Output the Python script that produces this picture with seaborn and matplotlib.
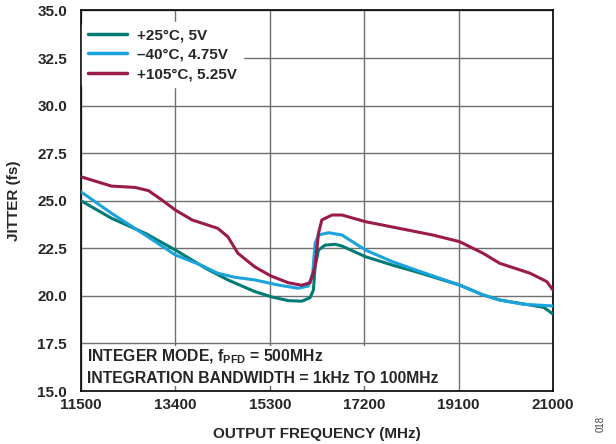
import numpy as np
import pandas as pd
import matplotlib
matplotlib.use("Agg")
import matplotlib.pyplot as plt
import seaborn as sns

# values
freq_25 = [11500, 12114, 12792, 13400, 14009, 14455, 14995, 15333, 15672, 15941,
           16110, 16178, 16211, 16280, 16414, 16617, 16753, 17225, 17767, 18239,
           19119, 19592, 19930, 20539, 20809, 21000]
jit_25 = [25.0, 24.08, 23.29, 22.41, 21.45, 20.84, 20.23, 19.95, 19.75, 19.72,
          19.9, 20.31, 21.53, 22.41, 22.67, 22.71, 22.62, 22.06, 21.62, 21.27,
          20.57, 20.05, 19.78, 19.52, 19.4, 19.05]

freq_m40 = [11500, 12114, 12792, 13400, 13913, 14252, 14589, 14995, 15469, 15874,
            16077, 16164, 16211, 16280, 16483, 16753, 17225, 17767, 18239, 19119,
            19592, 19930, 20403, 21000]
jit_m40 = [25.47, 24.34, 23.2, 22.15, 21.62, 21.19, 20.98, 20.84, 20.57, 20.4,
           20.52, 21.19, 22.76, 23.2, 23.32, 23.2, 22.41, 21.8, 21.36, 20.57,
           20.05, 19.78, 19.56, 19.47]

freq_105 = [11500, 12114, 12589, 12859, 13128, 13400, 13737, 13913, 14252, 14455,
            14658, 14995, 15319, 15672, 15941, 16110, 16211, 16280, 16347, 16550,
            16753, 17225, 17902, 18578, 19119, 19592, 19930, 20539, 20875, 21000]
jit_105 = [26.26, 25.77, 25.7, 25.53, 25.04, 24.51, 23.99, 23.84, 23.55, 23.11,
           22.24, 21.53, 21.05, 20.69, 20.56, 20.69, 21.53, 23.29, 23.99, 24.25,
           24.25, 23.9, 23.55, 23.2, 22.85, 22.24, 21.71, 21.19, 20.75, 20.31]

labels = ["+25°C, 5V", "\u201340°C, 4.75V", "+105°C, 5.25V"]
colors = ["#007b74", "#1aa3dc", "#9b1b48"]
x_ticks = [11500, 13400, 15300, 17200, 19100, 21000]
y_ticks = [15.0, 17.5, 20.0, 22.5, 25.0, 27.5, 30.0, 32.5, 35.0]

df = pd.concat([
    pd.DataFrame({"freq": freq_25, "jitter": jit_25, "cond": labels[0]}),
    pd.DataFrame({"freq": freq_m40, "jitter": jit_m40, "cond": labels[1]}),
    pd.DataFrame({"freq": freq_105, "jitter": jit_105, "cond": labels[2]}),
])

sns.set_style("white")
plt.rcParams["font.family"] = ["Liberation Sans", "DejaVu Sans"]
plt.rcParams["font.weight"] = "bold"
plt.rcParams["mathtext.fontset"] = "custom"
plt.rcParams["mathtext.rm"] = "Liberation Sans:bold"
plt.rcParams["mathtext.bf"] = "Liberation Sans:bold"

fig = plt.figure(figsize=(6.16, 4.44), dpi=100)
ax = fig.add_axes([81 / 616, 1 - 391 / 444, 472 / 616, 380.5 / 444])

sns.lineplot(data=df, x="freq", y="jitter", hue="cond", palette=dict(zip(labels, colors)),
             hue_order=labels, estimator=None, sort=False, linewidth=2.2, ax=ax, zorder=3)
for line in ax.get_lines():
    line.set_solid_joinstyle("round")

ax.set_xlim(11500, 21000)
ax.set_ylim(15, 35)
ax.set_xticks(x_ticks)
ax.set_yticks(y_ticks)
ax.set_xticklabels([str(v) for v in x_ticks], fontsize=11, fontweight="bold")
ax.set_yticklabels([f"{v:.1f}" for v in y_ticks], fontsize=11, fontweight="bold")
ax.tick_params(axis="x", length=0, pad=5)
ax.tick_params(axis="y", length=0, pad=10)
ax.grid(True, color="#707070", linewidth=1.0, zorder=0)
ax.set_axisbelow(True)
for s in ax.spines.values():
    s.set_color("black")
    s.set_linewidth(1.2)

ax.set_xlabel("OUTPUT FREQUENCY (MHz)", fontsize=11, fontweight="bold", labelpad=11)
ax.set_ylabel("JITTER (fs)", fontsize=11, fontweight="bold", labelpad=12)

leg = ax.legend(loc="upper left", bbox_to_anchor=(-4 / 472, 1 - 7 / 380.5), frameon=True,
                fontsize=11, handlelength=2.6, borderaxespad=0.3, labelspacing=0.36,
                handletextpad=0.65)
leg.get_frame().set_edgecolor("white")
leg.get_frame().set_facecolor("white")
leg.get_frame().set_alpha(1)
leg.set_zorder(5)
for line in leg.get_lines():
    line.set_linewidth(2.5)

ax.text(0.012, 0.014, "INTEGER MODE, f$_{\\mathbf{PFD}}$ = 500MHz\nINTEGRATION BANDWIDTH = 1kHz TO 100MHz",
        transform=ax.transAxes, fontsize=11.3, fontweight="bold", va="bottom", ha="left",
        linespacing=1.35, zorder=5,
        bbox=dict(facecolor="white", edgecolor="none", pad=0.5))

fig.text(0.975, 0.045, "018", rotation=90, fontsize=7, color="#444444",
         fontweight="normal", ha="center", va="center")

fig.savefig("out.png", dpi=100)
